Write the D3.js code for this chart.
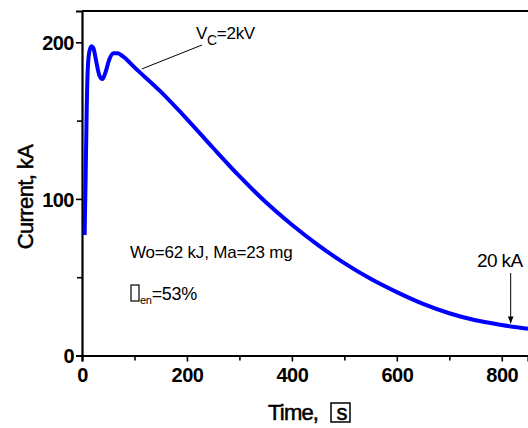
<!DOCTYPE html>
<html>
<head>
<meta charset="utf-8">
<script src="https://cdn.jsdelivr.net/npm/d3@7"></script>
<style>
  body { margin: 0; background: #fff; }
  text { font-family: "Liberation Sans", Arial, sans-serif; }
</style>
</head>
<body>
<svg id="chart" width="528" height="428"></svg>
<script>
// time (s) and current (kA)
var time    = [5, 7, 9, 11, 14, 18, 22, 27, 33, 39, 45, 52, 60, 68, 78, 100, 150, 200, 250, 300, 350, 400, 450, 500, 550, 600, 650, 700, 750, 800, 850]
var current = [77, 115, 158, 183, 194, 197.5, 196, 188, 179, 176.5, 181, 189, 193, 193, 191, 184, 168.5, 151, 132.5, 114.5, 98, 83.5, 70.5, 59, 49, 40.5, 33, 27, 22.5, 19.5, 17]
var xTicks = [0, 200, 400, 600, 800]
var xMinor = [100, 300, 500, 700]
var yTicks = [0, 100, 200]
var yMinor = [50, 150]

var svg = d3.select("#chart")
var mLeft = 82, mRight = 528, mTop = 11, mBottom = 355.5

var x = d3.scaleLinear().domain([0, 850]).range([mLeft, mRight])
var y = d3.scaleLinear().domain([0, 220]).range([mBottom, mTop])

// frame (top line only, right side is cut off)
svg.append("line").attr("x1", mLeft).attr("x2", mRight).attr("y1", mTop).attr("y2", mTop)
  .attr("stroke", "#000").attr("stroke-width", 2)

var xAxis = svg.append("g").attr("transform", `translate(0,${mBottom})`)
  .call(d3.axisBottom(x).tickValues(xTicks).tickSize(6).tickPadding(3))
var xMin = svg.append("g").attr("transform", `translate(0,${mBottom})`)
  .call(d3.axisBottom(x).tickValues(xMinor).tickSize(5).tickFormat(""))
var yAxis = svg.append("g").attr("transform", `translate(${mLeft},0)`)
  .call(d3.axisLeft(y).tickValues(yTicks).tickSize(6).tickPadding(2))
var yMin = svg.append("g").attr("transform", `translate(${mLeft},0)`)
  .call(d3.axisLeft(y).tickValues(yMinor).tickSize(5).tickFormat(""))

svg.selectAll(".domain").attr("stroke", "#000").attr("stroke-width", 2.2)
xMin.select(".domain").remove()
yMin.select(".domain").remove()
svg.selectAll(".tick line").attr("stroke", "#000").attr("stroke-width", 1.6)
svg.selectAll(".tick text").attr("font-size", 20).attr("font-weight", "bold")
  .attr("letter-spacing", -0.5).attr("fill", "#000")
xAxis.selectAll(".tick text").attr("dy", "0.85em")
yAxis.selectAll(".tick text").attr("dy", "0.36em")

// curve
var line = d3.line().x((d, i) => x(time[i])).y(d => y(d)).curve(d3.curveMonotoneX)
svg.append("path").datum(current).attr("d", line)
  .attr("fill", "none").attr("stroke", "#0000ff").attr("stroke-width", 4)
  .attr("stroke-linejoin", "round")

// axis titles
svg.append("text").attr("x", 268).attr("y", 420).attr("font-size", 22)
  .attr("letter-spacing", -0.8).attr("stroke", "#000").attr("stroke-width", 0.5).text("Time,")
svg.append("rect").attr("x", 331).attr("y", 403).attr("width", 19).attr("height", 19)
  .attr("fill", "none").attr("stroke", "#000").attr("stroke-width", 1.5)
svg.append("text").attr("x", 342).attr("y", 420).attr("text-anchor", "middle")
  .attr("font-size", 22).attr("stroke", "#000").attr("stroke-width", 0.5).text("s")

svg.append("text").attr("transform", "translate(33,197) rotate(-90)")
  .attr("text-anchor", "middle").attr("font-size", 22).attr("letter-spacing", -0.6)
  .attr("stroke", "#000").attr("stroke-width", 0.5)
  .text("Current, kA")

// annotations
var vc = svg.append("text").attr("x", 196).attr("y", 39).attr("font-size", 17).attr("letter-spacing", -0.3)
vc.append("tspan").text("V")
vc.append("tspan").text("C").attr("font-size", 14).attr("dy", 6)
vc.append("tspan").text("=2kV").attr("dy", -6)
svg.append("line").attr("x1", x(114)).attr("y1", y(183)).attr("x2", 202).attr("y2", 45)
  .attr("stroke", "#000").attr("stroke-width", 1)

svg.append("text").attr("x", 130).attr("y", 258).attr("font-size", 17).attr("letter-spacing", -0.2)
  .text("Wo=62 kJ, Ma=23 mg")

svg.append("rect").attr("x", 131).attr("y", 285).attr("width", 8).attr("height", 16)
  .attr("fill", "none").attr("stroke", "#000").attr("stroke-width", 1.2)
var eta = svg.append("text").attr("x", 140).attr("y", 300).attr("font-size", 18).attr("letter-spacing", -0.3)
eta.append("tspan").text("en").attr("font-size", 11).attr("dy", 4)
eta.append("tspan").text("=53%").attr("dy", -4)

svg.append("text").attr("x", 477).attr("y", 267).attr("font-size", 19).attr("letter-spacing", -0.6)
  .text("20 kA")
svg.append("defs").append("marker").attr("id", "arr").attr("viewBox", "0 0 10 10")
  .attr("refX", 10).attr("refY", 5).attr("markerWidth", 7).attr("markerHeight", 7)
  .attr("orient", "auto").attr("markerUnits", "userSpaceOnUse")
  .append("path").attr("d", "M0,1 L10,5 L0,9 Z").attr("fill", "#000")
svg.append("line").attr("x1", x(817)).attr("y1", 273).attr("x2", x(817)).attr("y2", y(20.5))
  .attr("stroke", "#000").attr("stroke-width", 1).attr("marker-end", "url(#arr)")
</script>
</body>
</html>
